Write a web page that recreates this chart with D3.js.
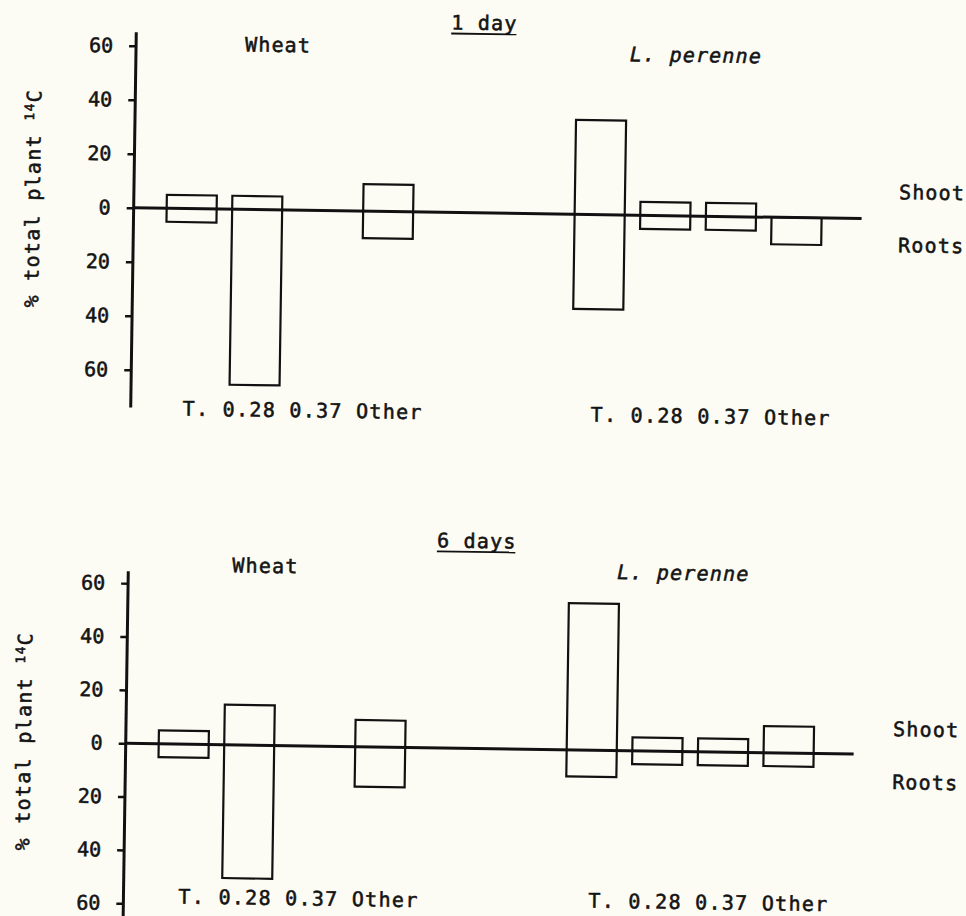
<!DOCTYPE html>
<html>
<head>
<meta charset="utf-8">
<script src="https://cdn.jsdelivr.net/npm/d3@7/dist/d3.min.js"></script>
<style>
  html, body { margin: 0; padding: 0; background: #fdfcf4; }
  svg { display: block; }
  text { font-family: "DejaVu Sans Mono", "Liberation Mono", monospace; fill: #141414; stroke: #141414; stroke-width: 0.55px; }
</style>
</head>
<body>
<svg id="chart" width="966" height="916"></svg>
<script>
// Distribution of 14C between shoot (up) and roots (down), % of total plant
const categories = ["T.", "0.28", "0.37", "Other"];
const species = ["Wheat", "L. perenne"];
const periods = ["1 day", "6 days"];
const yTickValues = [60, 40, 20, 0, -20, -40, -60];
const sideLabels = ["Shoot", "Roots"];
const yTitle = "% total plant ";

// 1 day
const wheatShoot1 = [5, 5, 0, 10];
const wheatRoot1 = [5, 65, 0, 10];
const perenneShoot1 = [35, 5, 5, 0];
const perenneRoot1 = [35, 5, 5, 10];
// 6 days
const wheatShoot6 = [5, 15, 0, 10];
const wheatRoot6 = [5, 50, 0, 15];
const perenneShoot6 = [55, 5, 5, 10];
const perenneRoot6 = [10, 5, 5, 5];

const seriesByPeriod = [
  [[wheatShoot1, wheatRoot1], [perenneShoot1, perenneRoot1]],
  [[wheatShoot6, wheatRoot6], [perenneShoot6, perenneRoot6]]
];

// Page layout for each panel
const layout = [
  {
    zeroY: 213, pxPerUnit: 2.7, axisTop: 65, axisBottom: -74,
    title: { x: 478, y: 30 },
    species: [{ x: 272, y: 55 }, { x: 690, y: 59 }],
    catLabels: [{ x: 182, y: 420 }, { x: 590, y: 420 }],
    side: { x: 895, shootY: 193, rootY: 246 },
    yTitle: { x: 36, y: 205 }
  },
  {
    zeroY: 748.5, pxPerUnit: 2.667, axisTop: 64.5, axisBottom: -72,
    title: { x: 478, y: 548 },
    species: [{ x: 267, y: 576 }, { x: 685, y: 577 }],
    catLabels: [{ x: 185, y: 908 }, { x: 595, y: 906 }],
    side: { x: 897, shootY: 730, rootY: 783 },
    yTitle: { x: 35, y: 748 }
  }
];
const axisX = 130;
const lineEnd = 858;
const groupRanges = [[163, 409.5], [571, 818]];

const svg = d3.select("#chart");
const root = svg.append("g").attr("transform", "rotate(0.85 483 458)");

layout.forEach((L, pi) => {
  const g = root.append("g");
  const k = L.pxPerUnit;
  const y = d3.scaleLinear().domain([-60, 60]).range([L.zeroY + 60 * k, L.zeroY - 60 * k]);

  // bars: one open box per category, from shoot value above to root value below
  species.forEach((sp, si) => {
    const x = d3.scaleBand().domain(categories).range(groupRanges[si]).paddingInner(0.237).paddingOuter(0);
    const [shoot, rootVals] = seriesByPeriod[pi][si];
    const rows = categories.map((c, i) => ({ c, s: shoot[i], r: rootVals[i] })).filter(d => d.s + d.r > 0);
    g.append("g").selectAll("rect").data(rows).join("rect")
      .attr("x", d => x(d.c))
      .attr("y", d => y(d.s))
      .attr("width", x.bandwidth())
      .attr("height", d => y(-d.r) - y(d.s))
      .attr("fill", "none")
      .attr("stroke", "#111")
      .attr("stroke-width", 2.2);

    g.append("text")
      .attr("x", L.species[si].x).attr("y", L.species[si].y)
      .attr("text-anchor", "middle")
      .attr("font-size", 20)
      .attr("letter-spacing", 1.2)
      .attr("font-style", si === 1 ? "italic" : "normal")
      .text(sp);

    g.append("text")
      .attr("x", L.catLabels[si].x).attr("y", L.catLabels[si].y)
      .attr("font-size", 20)
      .attr("letter-spacing", 1.3)
      .text(categories.join(" "));
  });

  // zero line
  g.append("line")
    .attr("x1", axisX).attr("x2", lineEnd)
    .attr("y1", y(0)).attr("y2", y(0))
    .attr("stroke", "#111").attr("stroke-width", 3);

  // y axis
  const axis = d3.axisLeft(y)
    .tickValues(yTickValues)
    .tickFormat(d => Math.abs(d))
    .tickSize(7)
    .tickPadding(16);
  const ax = g.append("g").attr("transform", `translate(${axisX},0)`).call(axis);
  ax.select(".domain").remove();
  ax.selectAll(".tick line").attr("stroke", "#111").attr("stroke-width", 2.5);
  ax.selectAll(".tick text")
    .attr("font-size", 20)
    .attr("font-family", "DejaVu Sans Mono, monospace")
    .attr("fill", "#141414");
  g.append("line")
    .attr("x1", axisX).attr("x2", axisX)
    .attr("y1", y(L.axisTop)).attr("y2", y(L.axisBottom))
    .attr("stroke", "#111").attr("stroke-width", 3);

  // y-axis title with superscript isotope number
  const yt = g.append("text")
    .attr("transform", `translate(${L.yTitle.x},${L.yTitle.y}) rotate(-90)`)
    .attr("text-anchor", "middle")
    .attr("font-size", 20)
    .attr("letter-spacing", 1.3);
  yt.append("tspan").text(yTitle);
  yt.append("tspan").attr("font-size", 13).attr("dy", -7).text("14");
  yt.append("tspan").attr("dy", 7).text("C");

  // panel title, underlined
  const t = g.append("text")
    .attr("x", L.title.x).attr("y", L.title.y)
    .attr("text-anchor", "middle")
    .attr("font-size", 20)
    .attr("letter-spacing", 1.2)
    .text(periods[pi]);
  const bb = t.node().getBBox();
  g.append("line")
    .attr("x1", bb.x).attr("x2", bb.x + bb.width - 1)
    .attr("y1", L.title.y + 4).attr("y2", L.title.y + 4)
    .attr("stroke", "#111").attr("stroke-width", 1.8);

  // shoot / roots side labels
  g.append("text").attr("x", L.side.x).attr("y", L.side.shootY)
    .attr("font-size", 20).attr("letter-spacing", 1.2).text(sideLabels[0]);
  g.append("text").attr("x", L.side.x).attr("y", L.side.rootY)
    .attr("font-size", 20).attr("letter-spacing", 1.2).text(sideLabels[1]);
});
</script>
</body>
</html>
